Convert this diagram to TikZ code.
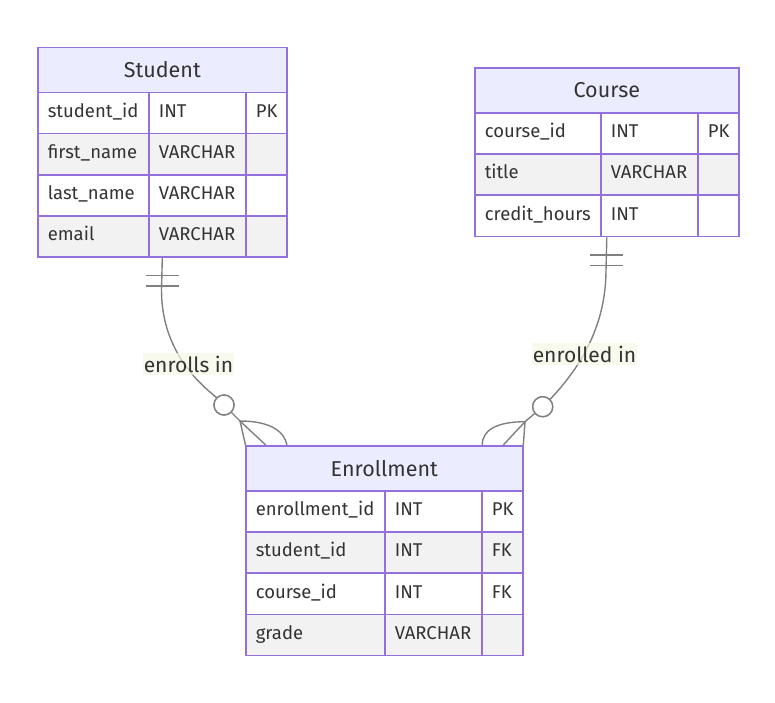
\documentclass[tikz,border=0pt]{standalone}
\usepackage{fontspec}
\setmainfont{Fira Sans}
\usetikzlibrary{fit}
\definecolor{cBorder}{HTML}{9370DB}
\definecolor{cHead}{HTML}{ECECFF}
\definecolor{cAlt}{HTML}{F2F2F2}
\definecolor{cText}{HTML}{333333}
\definecolor{cLine}{HTML}{808080}
\definecolor{cLbl}{HTML}{F5F9E4}
\tikzset{
  ercell/.style={draw=cBorder, line width=1.6pt, anchor=north west, minimum height=41.2pt,
    inner xsep=10pt, inner ysep=0pt, align=left, text=cText, text height=13pt, text depth=4.5pt,
    font=\fontsize{18.5}{20}\selectfont},
  erheader/.style={draw=cBorder, line width=1.6pt, fill=cHead, anchor=north west,
    minimum height=45pt, inner sep=0pt, text=cText, font=\fontsize{21.5}{24}\selectfont},
  rel/.style={draw=cLine, line width=1.4pt},
  relcirc/.style={circle, draw=cLine, line width=1.4pt, fill=white, minimum size=20pt, inner sep=0pt},
  lbl/.style={fill=cLbl, fill opacity=0.7, text opacity=1, text=cText, inner xsep=1pt, inner ysep=3pt,
    font=\fontsize{21}{23}\selectfont},
}
% #1 name, #2 x, #3 y, #4 fill, #5-#7 texts ; widths from \wa \wb \wc, text widths \ta \tb \tc
\newcommand\errow[7]{%
  \node[ercell, fill=#4, minimum width=\wa, text width=\ta pt] (#1a) at (#2,#3) {#5};
  \node[ercell, fill=#4, minimum width=\wb, text width=\tb pt] (#1b) at ({#2+\wa},#3) {#6};
  \node[ercell, fill=#4, minimum width=\wc, text width=\tc pt] (#1c) at ({#2+\wa+\wb},#3) {#7};
}
\begin{document}
\begin{tikzpicture}[x=1pt,y=-1pt]
\useasboundingbox[fill=white] (0,0) rectangle (775,702);

% Student
\def\wa{111}\def\wb{97}\def\wc{41}\def\ta{91}\def\tb{77}\def\tc{21}
\node[erheader, minimum width=249] (stuH) at (37,46.5) {Student};
\errow{stu1}{37}{91.5}{white}{student\_id}{INT}{PK}
\errow{stu2}{37}{132.7}{cAlt}{first\_name}{VARCHAR}{}
\errow{stu3}{37}{173.9}{white}{last\_name}{VARCHAR}{}
\errow{stu4}{37}{215.1}{cAlt}{email}{VARCHAR}{}
\node[fit=(stuH)(stu4c), inner sep=0pt] (student) {};

% Course
\def\wa{126}\def\wb{97}\def\wc{41}\def\ta{106}\def\tb{77}\def\tc{21}
\node[erheader, minimum width=264] (crsH) at (474,67) {Course};
\errow{crs1}{474}{112}{white}{course\_id}{INT}{PK}
\errow{crs2}{474}{153.2}{cAlt}{title}{VARCHAR}{}
\errow{crs3}{474}{194.4}{white}{credit\_hours}{INT}{}
\node[fit=(crsH)(crs3c), inner sep=0pt] (course) {};

% Enrollment
\def\wa{139}\def\wb{97}\def\wc{41}\def\ta{119}\def\tb{77}\def\tc{21}
\node[erheader, minimum width=277] (enrH) at (245,445) {Enrollment};
\errow{enr1}{245}{490}{white}{enrollment\_id}{INT}{PK}
\errow{enr2}{245}{531.2}{cAlt}{student\_id}{INT}{FK}
\errow{enr3}{245}{572.4}{white}{course\_id}{INT}{FK}
\errow{enr4}{245}{613.6}{cAlt}{grade}{VARCHAR}{}

% relationship circles and crow's-foot vertices
\node[relcirc] (c1) at (224,405) {};
\node[relcirc] (c2) at (542.7,406.7) {};
\coordinate (v1) at (240,421);
\coordinate (v2) at (525,421.7);

% Student -- Enrollment
\draw[rel] (student.south) -- (161.5,290) .. controls (161.5,345) and (192,378) .. (c1.135);
\draw[rel] ([xshift=-16.5pt,yshift=-17.5pt]student.south) -- ++(33,0);
\draw[rel] ([xshift=-16.5pt,yshift=-27.8pt]student.south) -- ++(33,0);
\draw[rel] (c1) -- (v1);
\draw[rel] (v1) -- ([xshift=0.5pt]enrH.north west);
\draw[rel] (v1) -- ([xshift=20.7pt]enrH.north west);
\draw[rel] (v1) .. controls (268,421) and (284,430) .. ([xshift=42pt]enrH.north west);

% Course -- Enrollment
\draw[rel] (course.south) -- (606,270) .. controls (606,330) and (576,372) .. (c2.45);
\draw[rel] ([xshift=-16.5pt,yshift=-17.5pt]course.south) -- ++(33,0);
\draw[rel] ([xshift=-16.5pt,yshift=-28pt]course.south) -- ++(33,0);
\draw[rel] (c2) -- (v2);
\draw[rel] (v2) -- ([xshift=-0.3pt]enrH.north east);
\draw[rel] (v2) -- ([xshift=-20.3pt]enrH.north east);
\draw[rel] (v2) .. controls (497,421.7) and (482,430) .. ([xshift=-41.3pt]enrH.north east);

\node[relcirc] at (c1) {};
\node[relcirc] at (c2) {};

% labels
\node[lbl] (l1) at (188.5,364) {enrolls in};
\node[lbl] (l2) at (584.5,354) {enrolled in};
\end{tikzpicture}
\end{document}
